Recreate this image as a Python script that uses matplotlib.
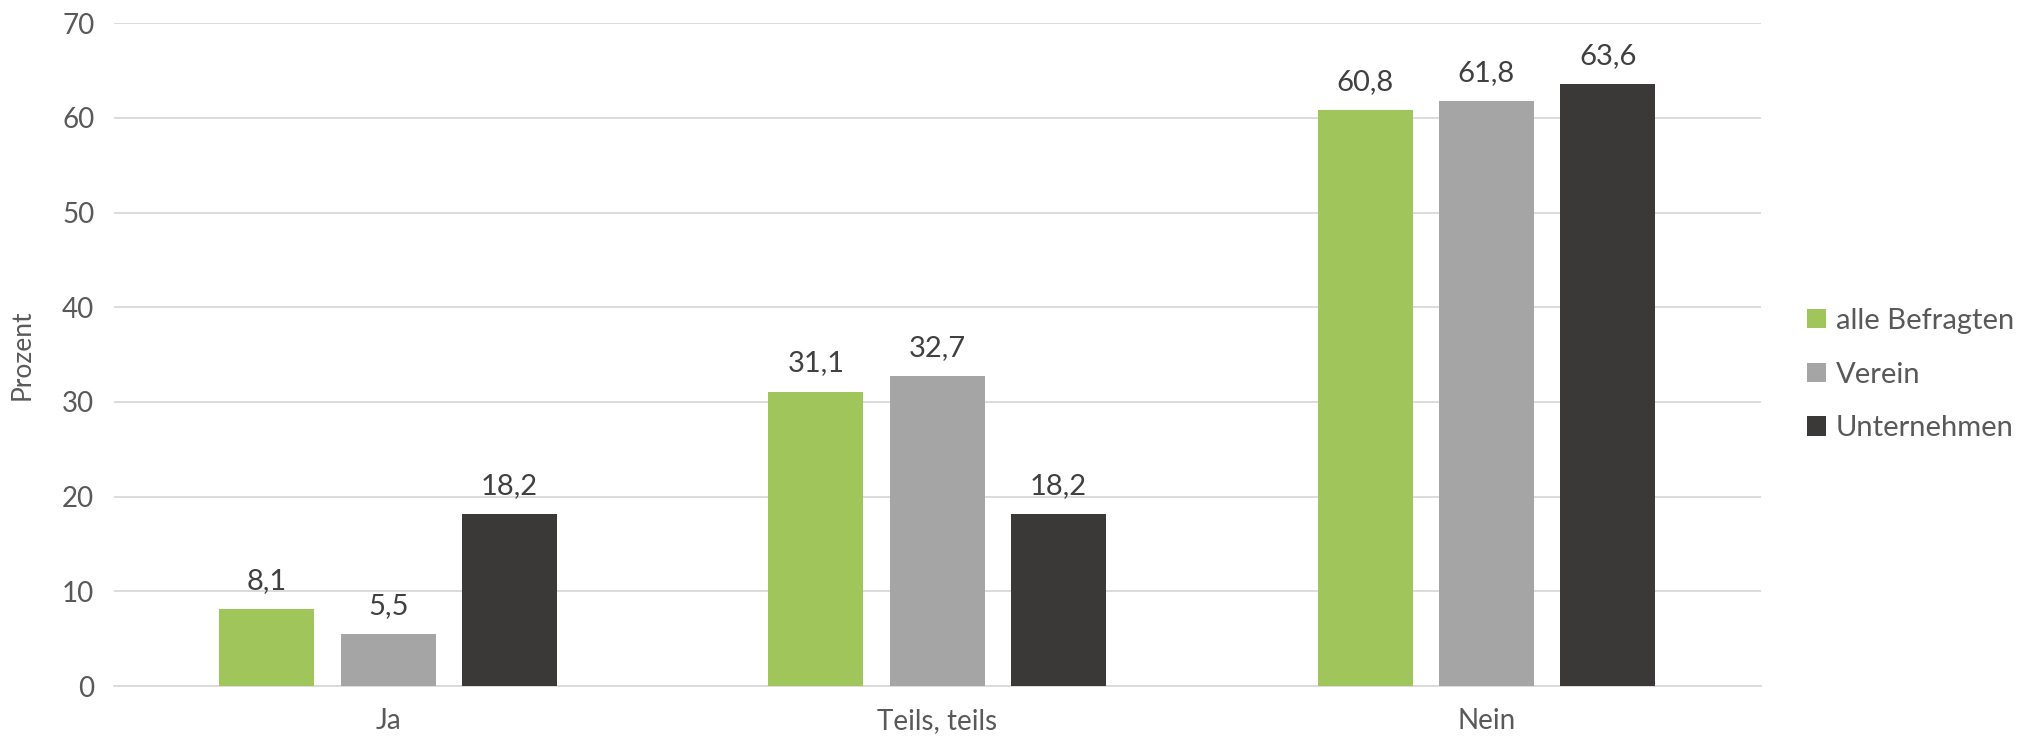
import numpy as np
import matplotlib.pyplot as plt

categories = ['Ja', 'Teils, teils', 'Nein']
series_names = ['alle Befragten', 'Verein', 'Unternehmen']
alle = [8.1, 31.1, 60.8]
verein = [5.5, 32.7, 61.8]
unternehmen = [18.2, 18.2, 63.6]
yticks = [0, 10, 20, 30, 40, 50, 60, 70]

colors = ['#9FC55B', '#A5A5A5', '#3A3937']

plt.rcParams['font.family'] = ['Lato', 'DejaVu Sans']

fig = plt.figure(figsize=(20.31, 7.45), dpi=100)
ax = fig.add_axes([0.056, 0.079, 0.811, 0.89])

x = np.arange(len(categories))
width = 0.173
step = 0.221
for i, (vals, name) in enumerate(zip([alle, verein, unternehmen], series_names)):
    pos = x + (i - 1) * step
    bars = ax.bar(pos, vals, width, color=colors[i], label=name, zorder=3)
    for b, v in zip(bars, vals):
        ax.text(b.get_x() + b.get_width() / 2, v + 1.6, str(v).replace('.', ','),
                ha='center', va='bottom', fontsize=21, color='#404040')

ax.set_xlim(-0.5, 2.5)
ax.set_ylim(0, 70)
ax.set_yticks(yticks)
ax.set_xticks(x)
ax.set_xticklabels(categories)
ax.grid(axis='y', color='#D9D9D9', linewidth=1.3, zorder=0)
for s in ['top', 'right', 'left']:
    ax.spines[s].set_visible(False)
ax.spines['bottom'].set_color('#D9D9D9')
ax.spines['bottom'].set_linewidth(1.3)
ax.tick_params(axis='both', length=0, labelsize=20, colors='#595959', pad=14)
ax.tick_params(axis='x', pad=16)
ax.set_ylabel('Prozent', fontsize=19, color='#595959', labelpad=20)

ax.legend(loc='center left', bbox_to_anchor=(1.012, 0.47), frameon=False,
          fontsize=21, labelcolor='#595959', handlelength=0.65, handleheight=0.65,
          handletextpad=0.35, labelspacing=0.95)

fig.savefig('out.png', dpi=100, facecolor='white')
